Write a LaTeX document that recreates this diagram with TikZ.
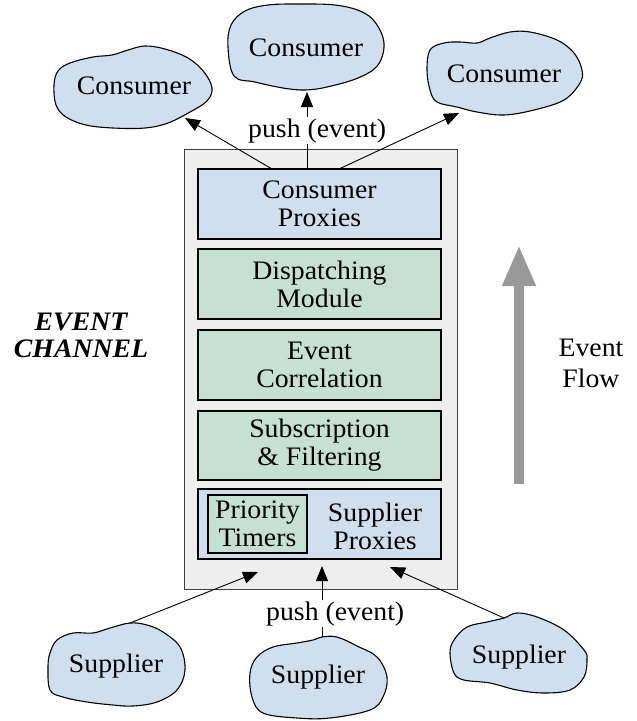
\documentclass[tikz,border=0pt]{standalone}
\usepackage{fontspec}
\setmainfont{Liberation Serif}[FakeStretch=1.04]
\usetikzlibrary{arrows.meta}
\definecolor{cloudblue}{RGB}{208,223,239}
\definecolor{modgreen}{RGB}{198,225,211}
\definecolor{chgray}{RGB}{238,238,238}
\definecolor{flowgray}{RGB}{153,153,153}
\tikzset{
  txt/.style={font=\fontsize{26.7}{28}\selectfont, inner sep=0pt, align=center},
  layer/.style={txt, draw=black, line width=1.1pt, minimum width=243pt, minimum height=70pt},
  bluelayer/.style={layer, fill=cloudblue},
  greenlayer/.style={layer, fill=modgreen},
  blob/.style={draw=black, line width=1.1pt, fill=cloudblue},
  push/.style={line width=0.9pt, -{Triangle[length=15pt,width=12pt]}},
  pushlbl/.style={txt, fill=white, inner sep=1pt, anchor=base west}
}
\begin{document}
\begin{tikzpicture}[x=1pt,y=-1pt]
\useasboundingbox (0,0) rectangle (637,721);
% channel
\node[draw=black!75, line width=0.9pt, fill=chgray, minimum width=273pt, minimum height=440pt, inner sep=0pt] (chan) at (320.5,369) {};
\node[bluelayer] (cprox) at (319.5,204) {Consumer\\Proxies};
\node[greenlayer] (disp) at (319.5,284) {Dispatching\\Module};
\node[greenlayer] (corr) at (319.5,365) {Event\\Correlation};
\node[greenlayer, minimum height=69pt] (subs) at (319.5,445.5) {Subscription\\\& Filtering};
\node[bluelayer] (sprox) at (319.5,524) {};
\node[txt] (sproxt) at (375,526) {Supplier\\Proxies};
\node[txt, draw=black, line width=1.1pt, fill=modgreen, minimum width=99pt, minimum height=58pt] (prio) at (257.5,524) {Priority\\Timers};
% labels
\node[txt, font=\fontsize{26.7}{27}\selectfont\bfseries\itshape] (evch) at (81,335) {EVENT\\CHANNEL};
\node[txt, font=\fontsize{26.7}{31}\selectfont] (flowt) at (591,363) {Event\\Flow};
% flow arrow
\coordinate (flowbot) at (519,484);
\coordinate (flowtop) at (519,245);
\draw[flowgray, line width=10pt, -{Triangle[length=41pt,width=31pt]}] (flowbot) -- (flowtop);
% consumer clouds
\filldraw[blob] plot[smooth cycle, tension=0.6] coordinates {(54,85) (58,71) (70,63) (93,57) (112,55) (128,50) (145,46) (165,49) (188,58) (204,72) (212,88) (207,101) (190,112) (168,123) (145,128) (113,128) (86,125) (66,117) (56,105)};
\node[txt, anchor=base] (cons1) at (134,94) {Consumer};
\filldraw[blob] plot[smooth cycle, tension=0.6] coordinates {(228,47) (231,25) (245,11) (268,5) (300,4) (335,5) (360,11) (375,22) (384,43) (378,65) (358,78) (327,87) (305,90) (283,88) (255,82) (234,76)};
\node[txt, anchor=base] (cons2) at (306,56) {Consumer};
\filldraw[blob] plot[smooth cycle, tension=0.6] coordinates {(427,70) (430,50) (444,43) (460,42) (477,43) (490,38) (510,32) (530,32) (557,40) (574,53) (582,70) (580,83) (564,100) (534,110) (504,115) (477,112) (457,107) (437,102) (430,90)};
\node[txt, anchor=base] (cons3) at (504,82) {Consumer};
% supplier clouds
\filldraw[blob] plot[smooth cycle, tension=0.6] coordinates {(130,623) (110,628) (93,633) (73,633) (57,640) (50,653) (48,667) (50,690) (63,697) (87,702) (113,705) (133,706) (157,702) (177,690) (185,670) (180,647) (163,632) (147,625)};
\node[txt, anchor=base] (sup1) at (116,672) {Supplier};
\filldraw[blob] plot[smooth cycle, tension=0.6] coordinates {(322,637) (337,637) (357,646) (377,657) (387,677) (383,697) (370,710) (330,718) (297,718) (263,713) (252,697) (250,673) (257,657) (273,647) (297,643) (313,640)};
\node[txt, anchor=base] (sup2) at (318,683) {Supplier};
\filldraw[blob] plot[smooth cycle, tension=0.6] coordinates {(504,618) (517,613) (537,617) (564,630) (584,650) (587,660) (584,677) (570,690) (544,693) (517,690) (490,683) (464,680) (454,673) (450,653) (454,640) (467,627) (487,622)};
\node[txt, anchor=base] (sup3) at (519,663) {Supplier};
% connector end points
\coordinate (o1) at (272,169);
\coordinate (o2) at (307,169);
\coordinate (o3) at (339,169);
\coordinate (t1) at (185,118);
\coordinate (t2) at (307,92);
\coordinate (t3) at (459,113);
\coordinate (s1) at (130,623);
\coordinate (s2) at (322,637);
\coordinate (s3) at (504,618);
\coordinate (i1) at (258,572);
\coordinate (i2) at (322,566);
\coordinate (i3) at (390,567);
\draw[push] (o1) -- (t1);
\draw[push] (o2) -- (t2);
\draw[push] (o3) -- (t3);
\draw[push] (s1) -- (i1);
\draw[push] (s2) -- (i2);
\draw[push] (s3) -- (i3);
\node[pushlbl] (plt) at (247,137) {push (event)};
\node[pushlbl] (plb) at (265,620) {push (event)};
\end{tikzpicture}
\end{document}
